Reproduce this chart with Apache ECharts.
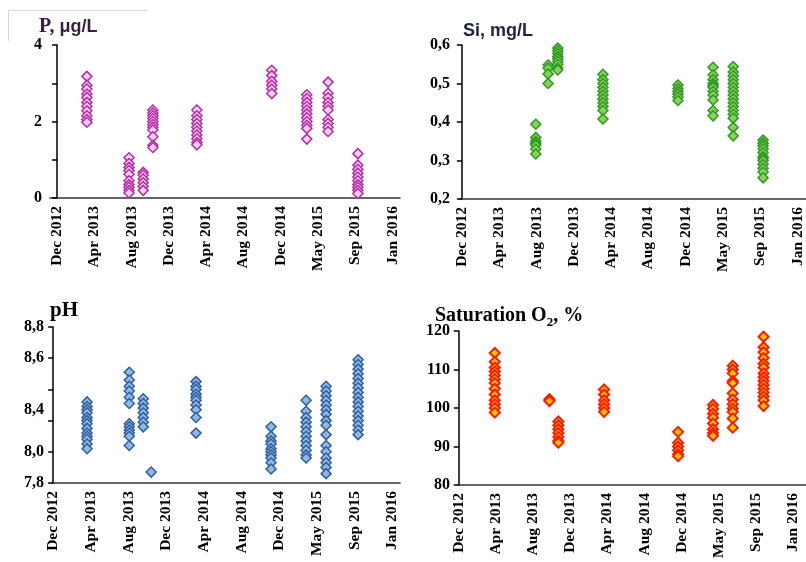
<!DOCTYPE html>
<html><head><meta charset="utf-8">
<script src="https://cdn.jsdelivr.net/npm/echarts@6/dist/echarts.min.js"></script>
<style>html,body{margin:0;padding:0;background:#fff}#c{width:806px;height:562px}</style>
</head><body><div id="c"></div>
<script>
// ---- tick labels (shared x axis) ----
const xTickLabels = ['Dec 2012','Apr 2013','Aug 2013','Dec 2013','Apr 2014','Aug 2014','Dec 2014','May 2015','Sep 2015','Jan 2016'];
const xTickIdx = [0,1,2,3,4,5,6,7,8,9];

// ---- P, µg/L ----
const pPositions = [0.80, 1.93, 2.31, 2.57, 3.75, 5.76, 6.70, 7.27, 8.07];
const pValues = [
  [3.18, 2.95, 2.85, 2.72, 2.63, 2.5, 2.4, 2.28, 2.15, 2.05, 1.98],
  [1.05, 0.9, 0.8, 0.72, 0.62, 0.45, 0.35, 0.28, 0.2, 0.13],
  [0.67, 0.6, 0.5, 0.4, 0.3, 0.2],
  [2.3, 2.22, 2.15, 2.08, 2.0, 1.92, 1.85, 1.78, 1.6, 1.38, 1.32],
  [2.3, 2.15, 2.05, 1.95, 1.85, 1.75, 1.65, 1.55, 1.45, 1.39],
  [3.34, 3.2, 3.05, 2.95, 2.85, 2.73],
  [2.7, 2.6, 2.5, 2.4, 2.3, 2.2, 2.1, 2.0, 1.9, 1.82, 1.54],
  [3.03, 2.74, 2.62, 2.5, 2.4, 2.3, 2.05, 1.95, 1.85, 1.74],
  [1.16, 0.86, 0.75, 0.65, 0.55, 0.45, 0.35, 0.28, 0.2, 0.12]
];
const pYLabels = [0, 2, 4];

// ---- Si, mg/L ----
const siPositions = [1.98, 2.31, 2.57, 3.78, 5.79, 6.73, 7.27, 8.07];
const siValues = [
  [0.394, 0.36, 0.35, 0.345, 0.34, 0.33, 0.317],
  [0.548, 0.54, 0.525, 0.50],
  [0.592, 0.585, 0.578, 0.57, 0.565, 0.558, 0.55, 0.54, 0.535],
  [0.524, 0.51, 0.50, 0.49, 0.48, 0.47, 0.46, 0.45, 0.44, 0.43, 0.408],
  [0.496, 0.487, 0.48, 0.473, 0.465, 0.456],
  [0.542, 0.522, 0.51, 0.50, 0.495, 0.49, 0.48, 0.47, 0.457, 0.43, 0.416],
  [0.544, 0.53, 0.52, 0.51, 0.50, 0.49, 0.48, 0.47, 0.46, 0.45, 0.44, 0.43, 0.42, 0.41, 0.386, 0.364],
  [0.353, 0.345, 0.338, 0.33, 0.32, 0.31, 0.305, 0.30, 0.29, 0.28, 0.27, 0.255]
];

// ---- pH ----
const phPositions = [0.90, 2.02, 2.39, 2.60, 3.79, 5.78, 6.71, 7.24, 8.09];
const phValues = [
  [8.32, 8.29, 8.27, 8.25, 8.22, 8.2, 8.18, 8.15, 8.12, 8.1, 8.08, 8.05, 8.02],
  [8.51, 8.46, 8.42, 8.39, 8.35, 8.31, 8.18, 8.16, 8.14, 8.12, 8.1, 8.04],
  [8.34, 8.31, 8.28, 8.25, 8.22, 8.19, 8.16],
  [7.87],
  [8.45, 8.42, 8.4, 8.37, 8.35, 8.33, 8.3, 8.27, 8.22, 8.12],
  [8.16, 8.1, 8.07, 8.05, 8.02, 8.0, 7.98, 7.96, 7.93, 7.89],
  [8.33, 8.26, 8.22, 8.19, 8.16, 8.13, 8.1, 8.07, 8.04, 8.01, 7.98, 7.96],
  [8.42, 8.39, 8.36, 8.33, 8.3, 8.27, 8.24, 8.2, 8.17, 8.11, 8.04, 8.0, 7.96, 7.93, 7.9, 7.86],
  [8.59, 8.56, 8.53, 8.5, 8.47, 8.44, 8.41, 8.38, 8.35, 8.32, 8.29, 8.26, 8.23, 8.2, 8.17, 8.14, 8.11]
];
const phTickValues = [7.8, 8.0, 8.2, 8.4, 8.6, 8.8];
const phLabelAt = [7.8, 8.0, 8.27, 8.6, 8.8];
const phLabelText = ['7,8', '8,0', '8,4', '8,6', '8,8'];

// ---- Saturation O2, % ----
const o2Positions = [0.97, 2.44, 2.68, 3.91, 5.90, 6.84, 7.37, 8.20];
const o2Values = [
  [114.3, 112, 110.5, 109.5, 108.5, 107.5, 106.5, 105, 103.5, 102, 101, 100, 98.8],
  [102.3, 102, 101.8],
  [96.5, 95.5, 94.5, 93.5, 92.5, 91.5, 91],
  [104.8, 103.5, 102, 101, 100, 99],
  [93.8, 91, 90, 89, 88, 87.5],
  [100.8, 99.8, 98.5, 97.5, 96, 94.5, 93.5, 92.8],
  [111, 110, 109, 107, 106.5, 103.8, 102.2, 101, 99.9, 99, 97.3, 94.9],
  [118.5, 115.8, 114.5, 113, 111.5, 110.5, 109, 108, 107, 106, 105, 104, 103, 102, 100.5]
];

function buildData(positions, values) {
  const out = [];
  positions.forEach((x, i) => values[i].forEach(v => out.push([x, v])));
  return out;
}

const serif = 'Liberation Serif';
const sans = 'Liberation Sans';
const comma = (v, d) => v.toFixed(d).replace('.', ',');

function xAxisFor(gi, min, max) {
  return {
    type: 'value', gridIndex: gi, min: min, max: max,
    axisLine: { show: true, onZero: false, lineStyle: { color: '#333', width: 1.5 } },
    axisTick: { show: false },
    splitLine: { show: false },
    axisLabel: {
      customValues: xTickIdx,
      formatter: v => xTickLabels[Math.round(v)],
      rotate: 90, margin: 8,
      fontFamily: serif, fontWeight: 'bold', fontSize: 15.5, color: '#000'
    }
  };
}
function yAxisFor(gi, min, max, interval, labelCfg, tickCfg) {
  return {
    type: 'value', gridIndex: gi, min: min, max: max, interval: interval,
    axisLine: { show: true, lineStyle: { color: '#000', width: 1.5 } },
    axisTick: Object.assign({ show: true, inside: false, length: 5, lineStyle: { color: '#000', width: 1.5 } }, tickCfg || {}),
    splitLine: { show: false },
    axisLabel: Object.assign({ margin: 8, fontFamily: serif, fontWeight: 'bold', fontSize: 16, color: '#000' }, labelCfg)
  };
}

function scatter(gi, data, border, fill, bw) {
  return {
    type: 'scatter', xAxisIndex: gi, yAxisIndex: gi, data: data,
    symbol: 'diamond', symbolSize: 10,
    itemStyle: { color: fill, borderColor: border, borderWidth: bw, opacity: 1 },
    emphasis: { disabled: true }, animation: false
  };
}

const chart = echarts.init(document.getElementById('c'), null, { renderer: 'canvas' });
chart.setOption({
  backgroundColor: '#fff',
  animation: false,
  grid: [
    { left: 50, top: 45, width: 350, height: 153 },
    { left: 460, top: 45, width: 346, height: 154 },
    { left: 52, top: 327, width: 348, height: 156 },
    { left: 458, top: 331, width: 348, height: 154 }
  ],
  title: [
    { text: '{a|P, }{b|μg/L}', left: 39, top: 17, padding: 0,
      textStyle: { rich: {
        a: { fontFamily: serif, fontWeight: 'bold', fontSize: 20, color: '#3a1f45' },
        b: { fontFamily: sans, fontWeight: 'bold', fontSize: 18, color: '#3a1f45' } } } },
    { text: 'Si, mg/L', left: 463, top: 22, padding: 0,
      textStyle: { fontFamily: sans, fontWeight: 'bold', fontSize: 18, color: '#1c2438' } },
    { text: 'pH', left: 50, top: 300, padding: 0,
      textStyle: { fontFamily: serif, fontWeight: 'bold', fontSize: 21, color: '#000' } },
    { text: '{a|Saturation O}{b|2}{a|, %}', left: 435, top: 304, padding: 0,
      textStyle: { rich: {
        a: { fontFamily: serif, fontWeight: 'bold', fontSize: 20, color: '#000', lineHeight: 22, verticalAlign: 'bottom' },
        b: { fontFamily: serif, fontWeight: 'bold', fontSize: 13, color: '#000', lineHeight: 13, verticalAlign: 'bottom', padding: [0, 0, -3, 0] } } } }
  ],
  graphic: [
    { type: 'line', shape: { x1: 8, y1: 10.5, x2: 147, y2: 10.5 }, style: { stroke: '#d8d8d8', lineWidth: 1 } },
    { type: 'line', shape: { x1: 8.5, y1: 10, x2: 8.5, y2: 41 }, style: { stroke: '#d8d8d8', lineWidth: 1 } }
  ],
  xAxis: [
    xAxisFor(0, -0.19, 9.2),
    xAxisFor(1, -0.05, 9.22),
    xAxisFor(2, -0.03, 9.2),
    xAxisFor(3, -0.02, 9.34)
  ],
  yAxis: [
    yAxisFor(0, 0, 4, 1, { customValues: pYLabels, formatter: v => String(v) }),
    yAxisFor(1, 0.2, 0.6, 0.1, { formatter: v => comma(v, 1), margin: 10 }),
    yAxisFor(2, 7.8, 8.8, 0.2, { customValues: phLabelAt, formatter: v => phLabelText[phLabelAt.findIndex(p => Math.abs(p - v) < 1e-6)] }, { customValues: phTickValues }),
    yAxisFor(3, 80, 120, 10, { formatter: v => String(v) })
  ],
  series: [
    scatter(0, buildData(pPositions, pValues), '#b82aa8', '#f6d2f0', 1.5),
    scatter(1, buildData(siPositions, siValues), '#2f9a22', '#86d35a', 1.5),
    scatter(2, buildData(phPositions, phValues), '#2f5f9e', '#8fb8e4', 1.5),
    scatter(3, buildData(o2Positions, o2Values), '#ff1a00', '#ffc400', 2)
  ]
});
</script>
</body></html>
